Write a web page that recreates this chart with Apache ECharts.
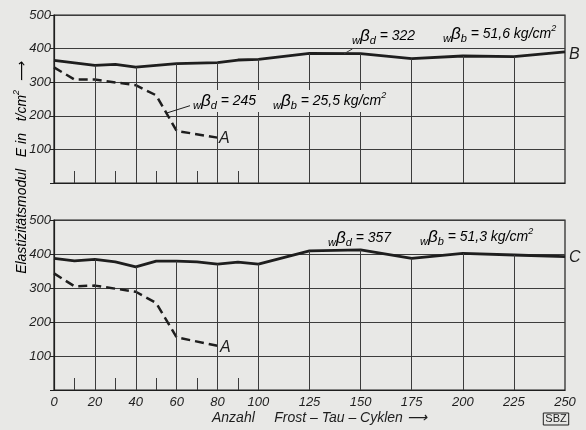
<!DOCTYPE html>
<html>
<head>
<meta charset="utf-8" />
<script src="https://cdn.jsdelivr.net/npm/echarts@6/dist/echarts.min.js"></script>
<style>
html, body { margin:0; padding:0; background:#e8e8e6; }
#main { width:586px; height:430px; }
</style>
</head>
<body>
<div id="main"></div>
<script>
// values (cycles -> modulus in t/cm2)
var cyclesB = [0, 20, 30, 40, 60, 80, 90, 100, 125, 150, 175, 200, 225, 250];
var modulB  = [365, 350, 353, 345, 355, 358, 366, 368, 386, 385, 370, 378, 376, 390];
var cyclesC = [0, 10, 20, 30, 40, 50, 60, 70, 80, 90, 100, 125, 150, 175, 200, 225, 250];
var modulC  = [387, 380, 384, 377, 362, 379, 379, 377, 370, 376, 370, 409, 412, 387, 402, 397, 392];
var cyclesA = [0, 10, 20, 40, 50, 60, 80];
var modulA1 = [344, 308, 308, 291, 261, 155, 135];
var modulA2 = [343, 305, 307, 289, 256, 155, 130];
var xTicks  = [0, 20, 40, 60, 80, 100, 125, 150, 175, 200, 225, 250];
var xMinor  = [10, 30, 50, 70, 90];
var xGrid   = [20, 40, 60, 80, 100, 125, 150, 175, 200, 225];

var ink = '#1e1e1e';
var gridInk = '#3c3c3c';
var bg = '#e8e8e6';
var fam = '"Liberation Sans", Arial, sans-serif';

function zip(xs, ys) {
    return xs.map(function (x, i) { return [x, ys[i]]; });
}
// vertical grid lines only run up to the curve
function verticals(xs, ys) {
    return xGrid.map(function (x) {
        return [{ coord: [x, 0] }, { coord: [x, ys[xs.indexOf(x)]] }];
    });
}

function xAxisOf(idx, labels) {
    return {
        type: 'value', gridIndex: idx, min: 0, max: 250,
        axisLine: { show: true, lineStyle: { color: ink, width: 1.2 } },
        splitLine: { show: false },
        axisTick: { show: true, inside: true, length: 12, customValues: xMinor,
                    lineStyle: { color: gridInk, width: 1 } },
        axisLabel: { show: labels, customValues: xTicks, margin: 6,
                     fontStyle: 'italic', fontSize: 13, fontFamily: fam, color: ink }
    };
}
function yAxisOf(idx) {
    return {
        type: 'value', gridIndex: idx, min: 0, max: 500, interval: 100,
        axisLine: { show: true, lineStyle: { color: ink, width: 1.2 } },
        axisTick: { show: true, length: 4, lineStyle: { color: ink } },
        splitLine: { show: true, lineStyle: { color: gridInk, width: 1 } },
        axisLabel: { margin: 3, fontStyle: 'italic', fontSize: 13, fontFamily: fam, color: ink,
                     formatter: function (v) { return v === 0 ? '' : v; } }
    };
}

var rich = {
    m: { fontSize: 14, fontStyle: 'italic', fontFamily: fam, color: ink, lineHeight: 20, verticalAlign: 'middle' },
    g: { fontSize: 17, fontStyle: 'italic', fontFamily: fam, color: ink, lineHeight: 20, verticalAlign: 'middle' },
    s: { fontSize: 11, fontStyle: 'italic', fontFamily: fam, color: ink, lineHeight: 11, verticalAlign: 'bottom' },
    p: { fontSize: 9, fontStyle: 'italic', fontFamily: fam, color: ink, lineHeight: 9, verticalAlign: 'top' }
};
function note(x, y, text, pad) {
    return {
        type: 'text', x: x, y: y, z: 50,
        style: { text: text, rich: rich, align: 'left', verticalAlign: 'middle',
                 backgroundColor: pad ? bg : 'transparent', padding: pad ? [1, 3, 1, 3] : 0 }
    };
}
function letter(x, y, t) {
    return {
        type: 'text', x: x, y: y, z: 50,
        style: { text: t, fontSize: 16, fontStyle: 'italic', fontFamily: fam, fill: ink,
                 align: 'left', verticalAlign: 'middle' }
    };
}

var myChart = echarts.init(document.getElementById('main'));
var option = {
    backgroundColor: bg,
    animation: false,
    grid: [
        { left: 54, right: 21, top: 15, height: 168, show: true, borderColor: ink, borderWidth: 1.2 },
        { left: 54, right: 21, top: 220, height: 170, show: true, borderColor: ink, borderWidth: 1.2 }
    ],
    xAxis: [xAxisOf(0, false), xAxisOf(1, true)],
    yAxis: [yAxisOf(0), yAxisOf(1)],
    series: [
        {
            name: 'B', type: 'line', xAxisIndex: 0, yAxisIndex: 0, showSymbol: false,
            data: zip(cyclesB, modulB), lineStyle: { color: ink, width: 2.8 },
            markLine: {
                silent: true, symbol: 'none', label: { show: false },
                lineStyle: { color: gridInk, width: 1, type: 'solid' },
                data: verticals(cyclesB, modulB).concat([
                    [{ coord: [142, 385] }, { coord: [146, 399] }]
                ])
            }
        },
        {
            name: 'A oben', type: 'line', xAxisIndex: 0, yAxisIndex: 0, showSymbol: false,
            data: zip(cyclesA, modulA1), lineStyle: { color: ink, width: 2.5, type: [9, 5] },
            markLine: {
                silent: true, symbol: 'none', label: { show: false },
                lineStyle: { color: ink, width: 1, type: 'solid' },
                data: [[{ coord: [55, 208] }, { coord: [67, 231] }]]
            }
        },
        {
            name: 'C', type: 'line', xAxisIndex: 1, yAxisIndex: 1, showSymbol: false,
            data: zip(cyclesC, modulC), lineStyle: { color: ink, width: 2.8 },
            markLine: {
                silent: true, symbol: 'none', label: { show: false },
                lineStyle: { color: gridInk, width: 1, type: 'solid' },
                data: verticals(cyclesC, modulC)
            }
        },
        {
            name: 'A unten', type: 'line', xAxisIndex: 1, yAxisIndex: 1, showSymbol: false,
            data: zip(cyclesA, modulA2), lineStyle: { color: ink, width: 2.5, type: [9, 5] }
        }
    ],
    graphic: [
        note(352, 36, '{s|w}{g|β}{s|d}{m| = 322}', false),
        note(443, 34, '{s|w}{g|β}{s|b}{m| = 51,6 kg/cm}{p|2}', false),
        letter(569, 55, 'B'),
        note(190, 101, '{s|w}{g|β}{s|d}{m| = 245}', true),
        note(270, 101, '{s|w}{g|β}{s|b}{m| = 25,5 kg/cm}{p|2}', true),
        letter(219, 139, 'A'),
        note(328, 238, '{s|w}{g|β}{s|d}{m| = 357}', false),
        note(420, 237, '{s|w}{g|β}{s|b}{m| = 51,3 kg/cm}{p|2}', false),
        letter(569, 258, 'C'),
        letter(220, 348, 'A'),
        {
            type: 'text', x: 22, y: 168, rotation: Math.PI / 2,
            style: { text: '{m|Elastizitätsmodul   E in   t/cm}{p|2}{m|  ⟶}', rich: rich,
                     align: 'center', verticalAlign: 'middle' }
        },
        {
            type: 'text', x: 212, y: 418,
            style: { text: 'Anzahl     Frost – Tau – Cyklen ⟶', fontSize: 14, fontStyle: 'italic',
                     fontFamily: fam, fill: ink, align: 'left', verticalAlign: 'middle' }
        },
        {
            type: 'text', x: 556, y: 419,
            style: { text: 'SBZ', fontSize: 11, fontFamily: fam, fill: ink, align: 'center',
                     verticalAlign: 'middle', borderColor: ink, borderWidth: 1, padding: [1, 2, 0, 2] }
        }
    ]
};
myChart.setOption(option);
</script>
</body>
</html>
